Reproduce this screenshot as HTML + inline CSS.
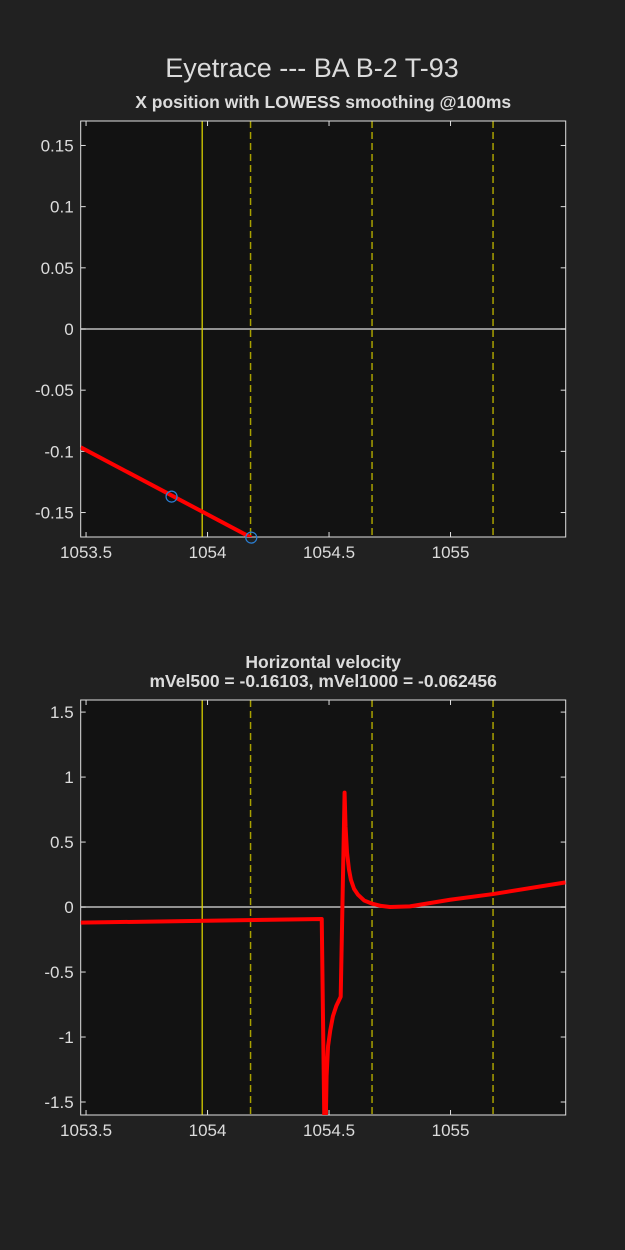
<!DOCTYPE html>
<html><head><meta charset="utf-8"><style>
body{margin:0;background:#212121;}
svg{display:block;font-family:"Liberation Sans",sans-serif;}
</style></head><body>
<svg id="fig" width="625" height="1250">
<rect width="625" height="1250" fill="#212121"/>
<text x="312" y="77" text-anchor="middle" font-size="27" fill="#dcdcdc">Eyetrace --- BA B-2 T-93</text>
<g id="ax1"></g>
<g id="ax2"></g>
</svg>
<script>
const xTicks=[1053.5,1054,1054.5,1055];
const vLineSolid=[1053.978];
const vLinesDashed=[1054.177,1054.677,1055.175];
const posX=[1053.478,1054.18];
const posY=[-0.0967,-0.1705];
const markX=[1053.852,1054.18];
const markY=[-0.137,-0.1705];
const posYTicks=[0.15,0.1,0.05,0,-0.05,-0.1,-0.15];
const posYLabels=["0.15","0.1","0.05","0","-0.05","-0.1","-0.15"];
const velX=[1053.478,1054.470,1054.483,1054.490,1054.496,1054.505,1054.516,1054.530,1054.548,1054.564,1054.568,1054.574,1054.582,1054.590,1054.603,1054.619,1054.645,1054.677,1054.710,1054.751,1054.833,1054.998,1055.175,1055.474];
const velY=[-0.12,-0.092,-2.0,-1.3,-1.07,-0.95,-0.84,-0.76,-0.69,0.88,0.62,0.42,0.29,0.21,0.14,0.095,0.05,0.026,0.01,0.0,0.005,0.056,0.10,0.19];
const velYTicks=[1.5,1,0.5,0,-0.5,-1,-1.5];
const velYLabels=["1.5","1","0.5","0","-0.5","-1","-1.5"];
const NS="http://www.w3.org/2000/svg";
function mk(p,t,a){const e=document.createElementNS(NS,t);for(const k in a)e.setAttribute(k,a[k]);p.appendChild(e);return e;}
function axes(g,id,L,R,T,B,xmin,xmax,ymin,ymax,yt,yl,titles){
  const sx=v=>L+(v-xmin)/(xmax-xmin)*(R-L);
  const sy=v=>B-(v-ymin)/(ymax-ymin)*(B-T);
  const bg=mk(g,'rect',{x:L,y:T,width:R-L,height:B-T,fill:'#121212'});
  
  
  const cp=mk(g,'clipPath',{id:'c'+id});mk(cp,'rect',{x:L,y:T,width:R-L,height:B-T});
  const z=mk(g,'line',{x1:L,x2:R,y1:sy(0),y2:sy(0),stroke:'#bdbdbd','stroke-width':1.5});
  
  
  vLineSolid.forEach(v=>{const l=mk(g,'line',{x1:sx(v),x2:sx(v),y1:T,y2:B,stroke:'#d8d000','stroke-width':1.3});
    
    });
  vLinesDashed.forEach(v=>{const l=mk(g,'line',{x1:sx(v),x2:sx(v),y1:T,y2:B,stroke:'#a8a000','stroke-width':1.5,'stroke-dasharray':'7,4'});
    
    });
  mk(g,'rect',{x:L,y:T,width:R-L,height:B-T,fill:'none',stroke:'#e0e0e0','stroke-width':1});
  xTicks.forEach(v=>{const x=sx(v);mk(g,'line',{x1:x,x2:x,y1:B,y2:B-5,stroke:'#e0e0e0'});mk(g,'line',{x1:x,x2:x,y1:T,y2:T+5,stroke:'#e0e0e0'});
    const t=mk(g,'text',{x:x,y:B+21,'text-anchor':'middle','font-size':17,fill:'#dcdcdc'});t.textContent=v;
    
    });
  yt.forEach((v,i)=>{const y=sy(v);mk(g,'line',{x1:L,x2:L+5,y1:y,y2:y,stroke:'#e0e0e0'});mk(g,'line',{x1:R,x2:R-5,y1:y,y2:y,stroke:'#e0e0e0'});
    const t=mk(g,'text',{x:L-7,y:y+6,'text-anchor':'end','font-size':17,fill:'#dcdcdc'});t.textContent=yl[i];
    
    });
  titles.forEach((s,i)=>{const t=mk(g,'text',{x:(L+R)/2,y:T-13-(titles.length-1-i)*19,'text-anchor':'middle','font-size':17.5,'font-weight':'bold',fill:'#dcdcdc'});t.textContent=s;
    
    });
  return {sx,sy,clip:'url(#c'+id+')'};
}
const g1=document.getElementById('ax1');
const a1=axes(g1,1,80.7,565.7,121,537,1053.478,1055.474,-0.17,0.17,posYTicks,posYLabels,["X position with LOWESS smoothing @100ms"]);
const p1=mk(g1,'polyline',{points:posX.map((v,i)=>a1.sx(v)+','+a1.sy(posY[i])).join(' '),fill:'none',stroke:'#ff0000','stroke-width':4,'clip-path':a1.clip});


markX.forEach((v,i)=>{const c=mk(g1,'circle',{cx:a1.sx(v),cy:a1.sy(markY[i]),r:5.5,fill:'none',stroke:'#2a7fd4','stroke-width':1.2});
  
  });
const g2=document.getElementById('ax2');
const a2=axes(g2,2,80.7,565.7,700,1115,1053.478,1055.474,-1.6,1.593,velYTicks,velYLabels,["Horizontal velocity","mVel500 = -0.16103, mVel1000 = -0.062456"]);
const p2=mk(g2,'polyline',{points:velX.map((v,i)=>a2.sx(v)+','+a2.sy(velY[i])).join(' '),fill:'none',stroke:'#ff0000','stroke-width':4,'stroke-linejoin':'round','clip-path':a2.clip});


</script>
</body></html>
